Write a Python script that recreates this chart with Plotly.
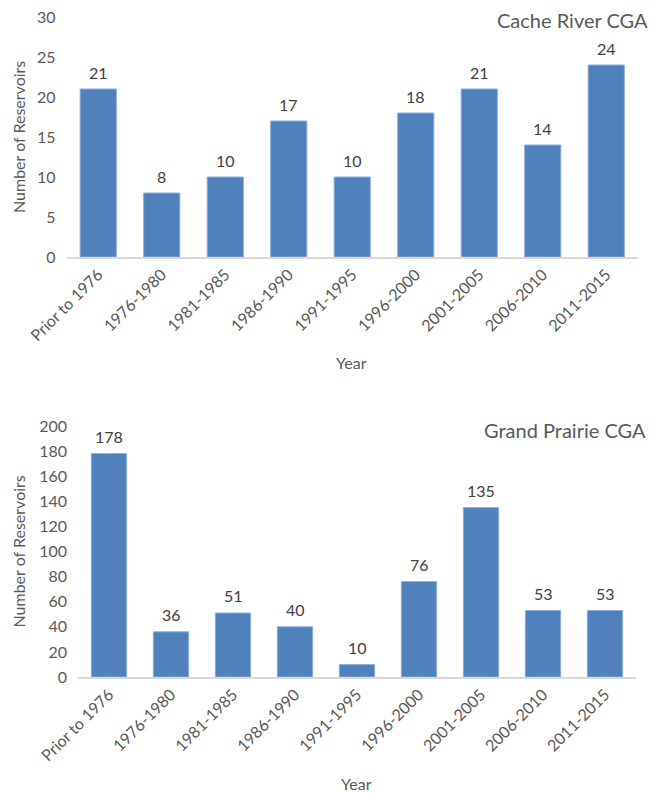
import plotly.graph_objects as go

categories = ["Prior to 1976", "1976-1980", "1981-1985", "1986-1990", "1991-1995",
              "1996-2000", "2001-2005", "2006-2010", "2011-2015"]
cache_river = [21, 8, 10, 17, 10, 18, 21, 14, 24]
grand_prairie = [178, 36, 51, 40, 10, 76, 135, 53, 53]
titles = ["Cache River CGA", "Grand Prairie CGA"]
y_title = "Number of Reservoirs"
x_title = "Year"

W, H = 654, 793
FONT = "Lato"
BAR = "#4F81BD"
TXT = "#595959"
LBL = "#404040"

def px(x):
    return x / W

def py(y):
    return 1 - y / H

fig = go.Figure()

panels = [
    dict(data=cache_river, xa="x", ya="y", xdom=[px(66.5), px(638)], ydom=[py(257), py(17)],
         yr=[0, 30], dt=5, title=titles[0], tpos=(650, 20), ytc=137, xtc=(352, 362)),
    dict(data=grand_prairie, xa="x2", ya="y2", xdom=[px(78), px(636)], ydom=[py(677), py(426)],
         yr=[0, 200], dt=20, title=titles[1], tpos=(648, 430), ytc=551.5, xtc=(357, 783)),
]

annotations = []
for i, p in enumerate(panels):
    fig.add_trace(go.Bar(
        x=categories, y=p["data"], xaxis=p["xa"], yaxis=p["ya"],
        marker=dict(color=BAR, line=dict(color="#8EAEDB", width=1)),
        showlegend=False, hoverinfo="x+y",
    ))
    sfx = "" if i == 0 else "2"
    fig.update_layout(**{
        "xaxis" + sfx: dict(domain=p["xdom"], anchor="y" + sfx, type="category",
                            tickangle=-45, showgrid=False, showline=True,
                            linecolor="#D9D9D9", linewidth=2, ticks="",
                            automargin=False,
                            tickfont=dict(family=FONT, size=16, color=TXT),
                            fixedrange=True),
        "yaxis" + sfx: dict(domain=p["ydom"], anchor="x" + sfx, range=p["yr"], dtick=p["dt"],
                            showgrid=False, zeroline=False, showline=False, ticks="",
                            ticklabelstandoff=10, automargin=False,
                            tickfont=dict(family=FONT, size=16, color=TXT),
                            fixedrange=True),
    })
    for c, v in zip(categories, p["data"]):
        annotations.append(dict(x=c, y=v, xref=p["xa"], yref=p["ya"], text=str(v),
                                showarrow=False, yanchor="middle", yshift=17,
                                font=dict(family=FONT, size=16, color=LBL)))
    annotations.append(dict(x=px(p["tpos"][0]), y=py(p["tpos"][1]), xref="paper", yref="paper",
                            text=p["title"], showarrow=False, xanchor="right", yanchor="middle",
                            font=dict(family=FONT, size=20, color=TXT)))
    annotations.append(dict(x=px(18), y=py(p["ytc"]), xref="paper", yref="paper",
                            text=y_title, textangle=-90, showarrow=False,
                            xanchor="center", yanchor="middle",
                            font=dict(family=FONT, size=16, color=TXT)))
    annotations.append(dict(x=px(p["xtc"][0]), y=py(p["xtc"][1]), xref="paper", yref="paper",
                            text=x_title, showarrow=False, xanchor="center", yanchor="middle",
                            font=dict(family=FONT, size=16, color=TXT)))

fig.update_layout(
    width=W, height=H, margin=dict(l=0, r=0, t=0, b=0, autoexpand=False),
    paper_bgcolor="white", plot_bgcolor="white",
    bargap=0.43, annotations=annotations,
)

fig.write_html("out.html")
